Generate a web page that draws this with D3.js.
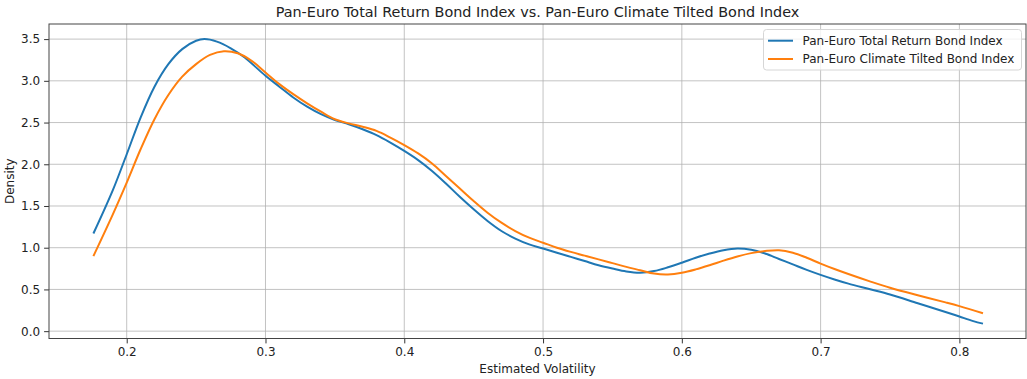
<!DOCTYPE html>
<html>
<head>
<meta charset="utf-8">
<script src="https://cdn.jsdelivr.net/npm/d3@7/dist/d3.min.js"></script>
<style>
  html, body { margin: 0; padding: 0; background: #fff; }
  svg { display: block; font-family: "DejaVu Sans", sans-serif; }
</style>
</head>
<body>
<svg id="chart" width="1027" height="379"></svg>
<script>
const title = "Pan-Euro Total Return Bond Index vs. Pan-Euro Climate Tilted Bond Index";
const xLabel = "Estimated Volatility";
const yLabel = "Density";
const seriesNames = ["Pan-Euro Total Return Bond Index", "Pan-Euro Climate Tilted Bond Index"];
const seriesColors = ["#1f77b4", "#ff7f0e"];

const totalReturnX = [0.176, 0.19, 0.20, 0.21, 0.22, 0.23, 0.24, 0.25, 0.256, 0.265, 0.275, 0.285,
  0.30, 0.31, 0.32, 0.33, 0.34, 0.35, 0.36, 0.37, 0.38, 0.39, 0.40, 0.41, 0.42, 0.43, 0.44, 0.45,
  0.46, 0.47, 0.48, 0.49, 0.50, 0.51, 0.52, 0.53, 0.54, 0.55, 0.56, 0.57, 0.58, 0.59, 0.60, 0.61,
  0.62, 0.63, 0.64, 0.65, 0.66, 0.67, 0.68, 0.69, 0.70, 0.71, 0.72, 0.735, 0.75, 0.77, 0.79, 0.80, 0.81, 0.817];
const totalReturn = [1.17, 1.69, 2.12, 2.56, 2.93, 3.20, 3.38, 3.48, 3.50, 3.47, 3.39, 3.28,
  3.06, 2.93, 2.80, 2.69, 2.60, 2.53, 2.48, 2.42, 2.35, 2.26, 2.16, 2.05, 1.92, 1.77, 1.61, 1.46,
  1.32, 1.20, 1.11, 1.04, 0.99, 0.94, 0.89, 0.84, 0.79, 0.75, 0.715, 0.70, 0.72, 0.765, 0.82, 0.88,
  0.93, 0.97, 0.99, 0.975, 0.93, 0.865, 0.80, 0.735, 0.675, 0.62, 0.57, 0.505, 0.44, 0.335, 0.23, 0.175, 0.12, 0.09];

const climateTiltedX = [0.176, 0.19, 0.20, 0.21, 0.22, 0.23, 0.24, 0.25, 0.26, 0.27, 0.28, 0.29,
  0.30, 0.31, 0.32, 0.33, 0.34, 0.35, 0.36, 0.37, 0.38, 0.39, 0.40, 0.41, 0.42, 0.43, 0.44, 0.45,
  0.46, 0.47, 0.48, 0.49, 0.50, 0.51, 0.52, 0.53, 0.54, 0.55, 0.56, 0.57, 0.58, 0.59, 0.60, 0.61,
  0.62, 0.63, 0.64, 0.65, 0.66, 0.67, 0.68, 0.69, 0.70, 0.71, 0.72, 0.735, 0.75, 0.77, 0.79, 0.80, 0.817];
const climateTilted = [0.90, 1.40, 1.78, 2.18, 2.54, 2.83, 3.05, 3.20, 3.31, 3.355, 3.33, 3.24,
  3.10, 2.96, 2.84, 2.73, 2.63, 2.54, 2.49, 2.45, 2.40, 2.32, 2.23, 2.13, 2.01, 1.86, 1.71, 1.56,
  1.42, 1.30, 1.20, 1.12, 1.06, 1.00, 0.95, 0.905, 0.86, 0.815, 0.77, 0.73, 0.69, 0.68, 0.70, 0.74,
  0.79, 0.845, 0.895, 0.935, 0.96, 0.97, 0.94, 0.88, 0.81, 0.745, 0.685, 0.60, 0.52, 0.43, 0.345, 0.30, 0.215];

const xTicks = [0.2, 0.3, 0.4, 0.5, 0.6, 0.7, 0.8];
const yTicks = [0.0, 0.5, 1.0, 1.5, 2.0, 2.5, 3.0, 3.5];

const svg = d3.select("#chart");
const mLeft = 49, mRight = 1026, mTop = 24, mBottom = 338.5;

const x = d3.scaleLinear().domain([0.1440, 0.8480]).range([mLeft, mRight]);
const y = d3.scaleLinear().domain([-0.088, 3.681]).range([mBottom, mTop]);

// grid
const grid = svg.append("g");
grid.selectAll("line.gx").data(xTicks).join("line").attr("class", "gx")
  .attr("x1", d => x(d)).attr("x2", d => x(d)).attr("y1", mTop).attr("y2", mBottom)
  .attr("stroke", "#b0b0b0").attr("stroke-width", 1).attr("opacity", 0.75);
grid.selectAll("line.gy").data(yTicks).join("line").attr("class", "gy")
  .attr("y1", d => y(d)).attr("y2", d => y(d)).attr("x1", mLeft).attr("x2", mRight)
  .attr("stroke", "#b0b0b0").attr("stroke-width", 1).attr("opacity", 0.75);

// lines
const series = [
  { xs: totalReturnX, ys: totalReturn },
  { xs: climateTiltedX, ys: climateTilted }
];
series.forEach((s, k) => {
  const pts = s.xs.map((v, i) => [v, s.ys[i]]);
  const line = d3.line().x(d => x(d[0])).y(d => y(d[1])).curve(d3.curveCatmullRom.alpha(0.5));
  svg.append("path").datum(pts).attr("d", line)
    .attr("fill", "none").attr("stroke", seriesColors[k]).attr("stroke-width", 2);
});

// axes
const xAxis = d3.axisBottom(x).tickValues(xTicks).tickFormat(d3.format(".1f")).tickSize(4.9).tickPadding(4);
const yAxis = d3.axisLeft(y).tickValues(yTicks).tickFormat(d3.format(".1f")).tickSize(4.9).tickPadding(4);
const gx = svg.append("g").attr("transform", `translate(0,${mBottom})`).call(xAxis);
const gy = svg.append("g").attr("transform", `translate(${mLeft},0)`).call(yAxis);
[gx, gy].forEach(g => {
  g.select(".domain").remove();
  g.selectAll("line").attr("stroke", "#333");
  g.selectAll("text").attr("fill", "#222").style("font-size", "12px").style("font-family", "DejaVu Sans");
});

// frame
svg.append("rect").attr("x", mLeft).attr("y", mTop).attr("width", mRight - mLeft).attr("height", mBottom - mTop)
  .attr("fill", "none").attr("stroke", "#444").attr("stroke-width", 1);

// title & labels
svg.append("text").attr("x", (mLeft + mRight) / 2).attr("y", 17).attr("text-anchor", "middle")
  .style("font-size", "14.4px").attr("fill", "#222").text(title);
svg.append("text").attr("x", (mLeft + mRight) / 2).attr("y", 373).attr("text-anchor", "middle")
  .style("font-size", "12px").attr("fill", "#222").text(xLabel);
svg.append("text").attr("transform", `translate(14,${(mTop + mBottom) / 2}) rotate(-90)`).attr("text-anchor", "middle")
  .style("font-size", "12px").attr("fill", "#222").text(yLabel);

// legend
const lg = svg.append("g");
lg.append("rect").attr("x", 763.5).attr("y", 29.5).attr("width", 258).attr("height", 40.5).attr("rx", 3)
  .attr("fill", "#fff").attr("fill-opacity", 0.8).attr("stroke", "#d6d6d6").attr("stroke-width", 1);
seriesNames.forEach((n, k) => {
  const ly = 40.7 + k * 18.3;
  lg.append("line").attr("x1", 768).attr("x2", 793).attr("y1", ly).attr("y2", ly)
    .attr("stroke", seriesColors[k]).attr("stroke-width", 2);
  lg.append("text").attr("x", 802.5).attr("y", ly + 4.3).style("font-size", "12px").attr("fill", "#222").text(n);
});
</script>
</body>
</html>
